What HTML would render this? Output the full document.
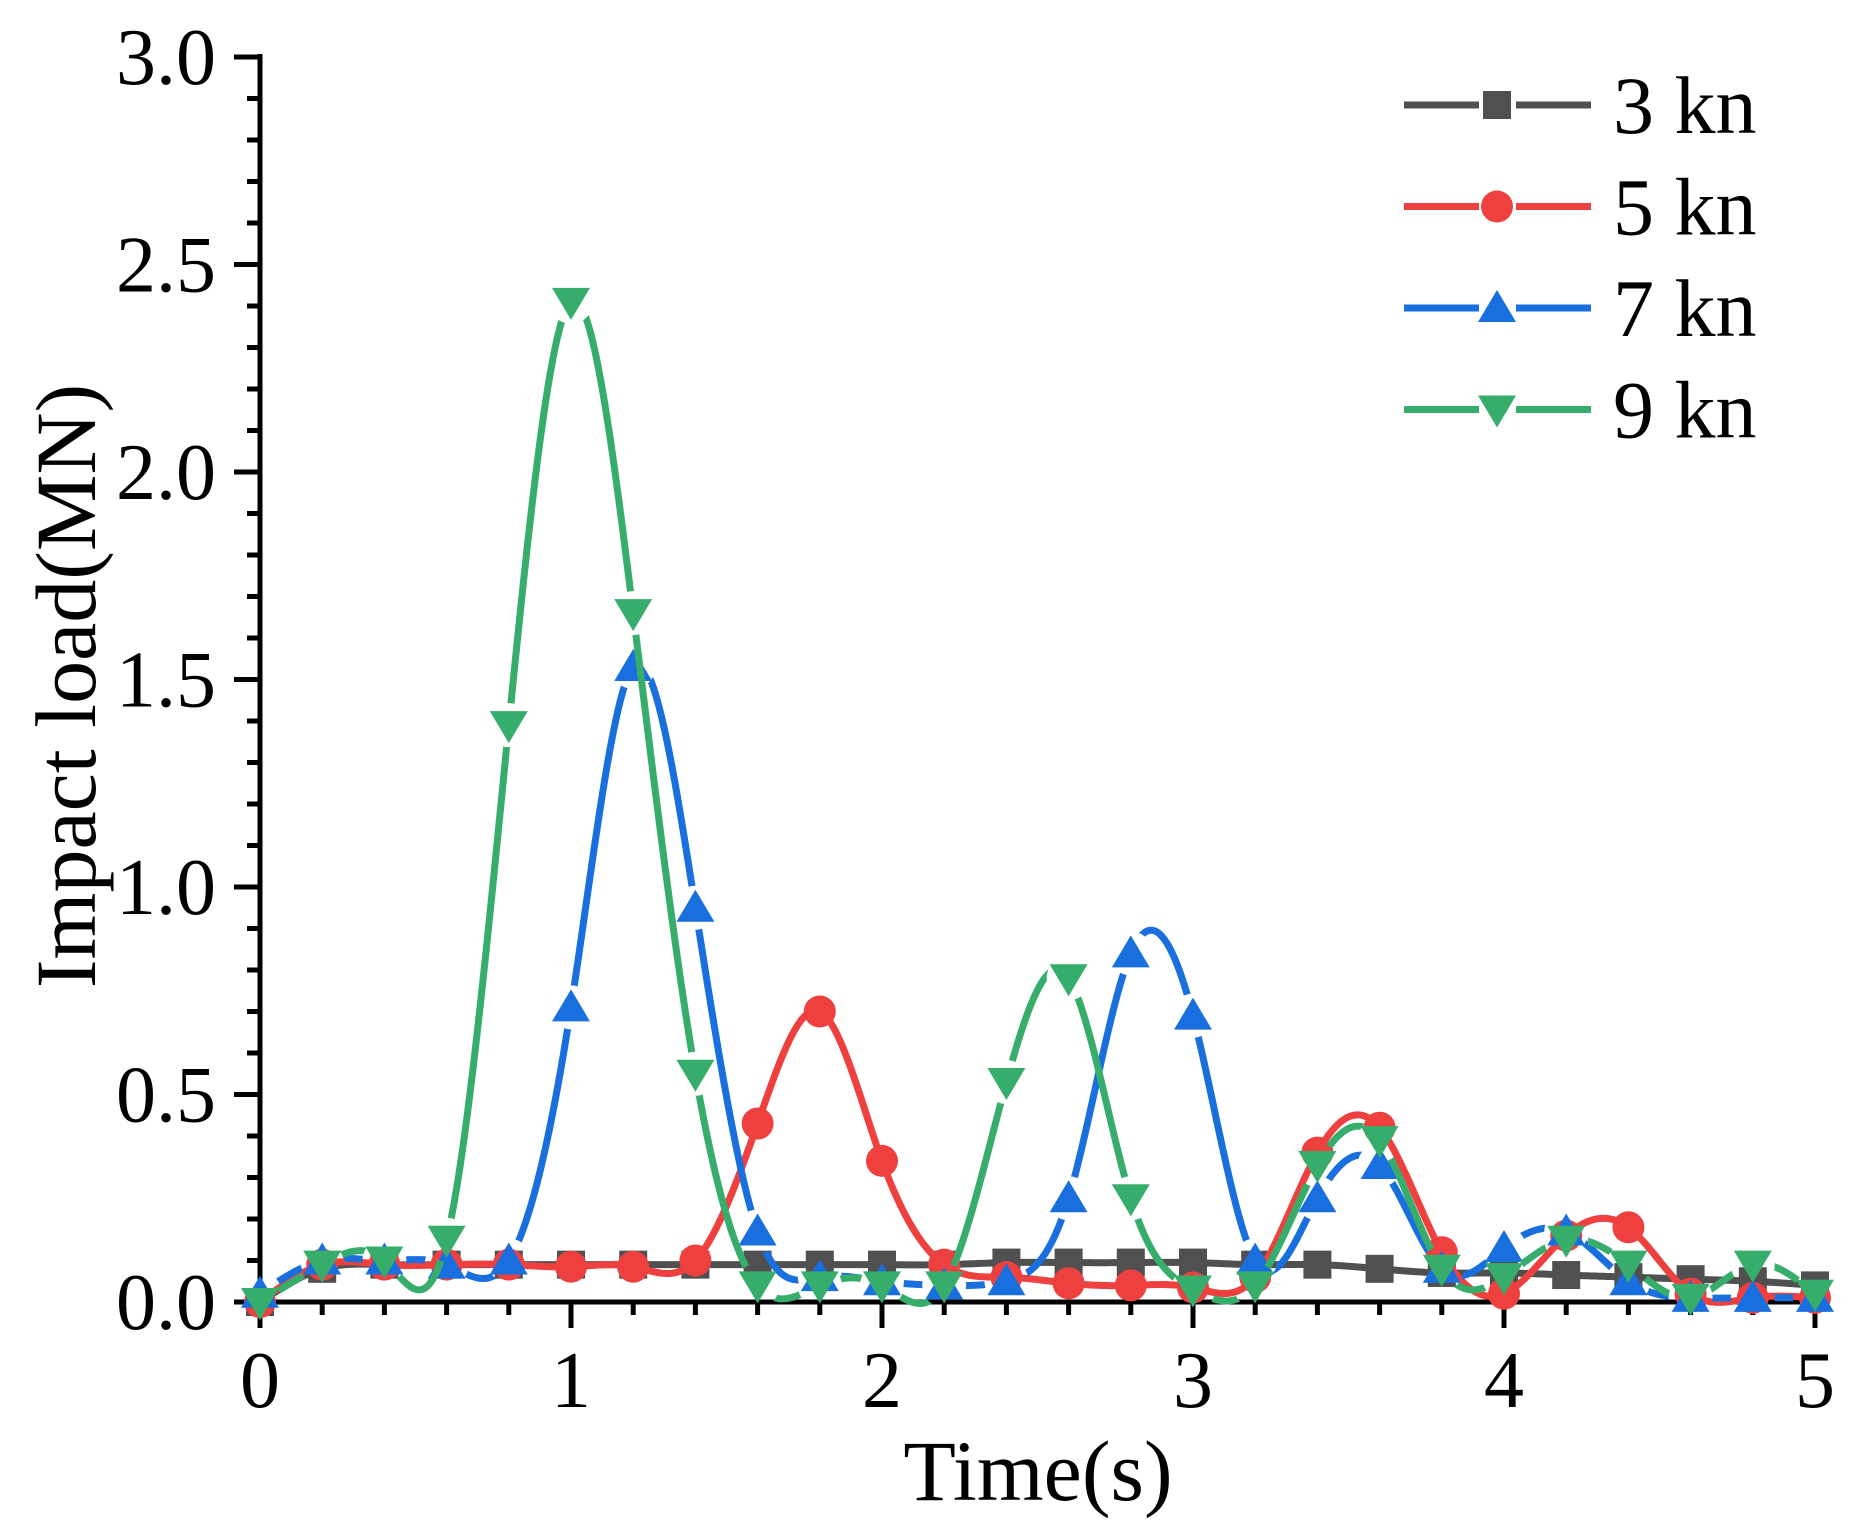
<!DOCTYPE html>
<html><head><meta charset="utf-8"><style>
html,body{margin:0;padding:0;background:#fff;}
svg{display:block;font-family:"Liberation Serif",serif;}
</style></head><body>
<svg id="chart" width="1854" height="1533" viewBox="0 0 1854 1533">
<defs id="defs"></defs>
<g id="axes"></g>
<g id="series"></g>
<g id="legend"></g>
<text x="1038" y="1500" font-size="86" text-anchor="middle">Time(s)</text>
<text transform="translate(95,686) rotate(-90)" font-size="86" text-anchor="middle">Impact load(MN)</text>
</svg>
<script>
const times = [0,0.2,0.4,0.6,0.8,1.0,1.2,1.4,1.6,1.8,2.0,2.2,2.4,2.6,2.8,3.0,3.2,3.4,3.6,3.8,4.0,4.2,4.4,4.6,4.8,5.0];
const s3kn = [0.0,0.08,0.09,0.09,0.09,0.09,0.09,0.09,0.09,0.09,0.09,0.09,0.095,0.095,0.095,0.095,0.09,0.09,0.08,0.07,0.07,0.065,0.06,0.055,0.05,0.04];
const s5kn = [0.0,0.09,0.09,0.09,0.09,0.085,0.085,0.1,0.43,0.70,0.34,0.09,0.06,0.045,0.04,0.035,0.06,0.36,0.42,0.12,0.02,0.16,0.18,0.02,0.01,0.01];
const s7kn = [0.02,0.1,0.1,0.09,0.1,0.71,1.53,0.95,0.17,0.06,0.05,0.04,0.05,0.25,0.84,0.69,0.1,0.25,0.33,0.08,0.13,0.17,0.05,0.01,0.01,0.01];
const s9kn = [0.0,0.09,0.1,0.15,1.39,2.41,1.66,0.55,0.04,0.04,0.04,0.04,0.53,0.78,0.25,0.03,0.04,0.33,0.39,0.08,0.06,0.15,0.09,0.01,0.09,0.02];
const xTicks = [0,1,2,3,4,5];
const yTicks = [0.0,0.5,1.0,1.5,2.0,2.5,3.0];
const seriesNames = ["3 kn","5 kn","7 kn","9 kn"];

const NS="http://www.w3.org/2000/svg";
const X0=260,X1=1815,Y0=1302,Y1=57;
const xs=v=>X0+(v-0)/5*(X1-X0);
const ys=v=>Y0-(v-0)/3*(Y0-Y1);
function mk(tag,attrs,parent){const e=document.createElementNS(NS,tag);for(const k in attrs)e.setAttribute(k,attrs[k]);parent.appendChild(e);return e;}
const axes=document.getElementById('axes');
let l=mk('line',{x1:X0,y1:Y1-3,x2:X0,y2:Y0+2.5,stroke:'#000','stroke-width':5},axes);


l=mk('line',{x1:X0-2.5,y1:Y0,x2:X1+2.5,y2:Y0,stroke:'#000','stroke-width':5},axes);


for(let i=0;i<=25;i++){const v=i*0.2;const major=i%5===0;
 const t=mk('line',{x1:xs(v),y1:Y0,x2:xs(v),y2:Y0+(major?26:13),stroke:'#000','stroke-width':5},axes);
 
 }
for(let i=0;i<=30;i++){const v=i*0.1;const major=i%5===0;
 const t=mk('line',{x1:X0,y1:ys(v),x2:X0-(major?26:13),y2:ys(v),stroke:'#000','stroke-width':5},axes);
 
 }
xTicks.forEach(v=>{const t=mk('text',{x:xs(v),y:1407,'font-size':80,'text-anchor':'middle'},axes);t.textContent=String(v);
 
 });
yTicks.forEach(v=>{const t=mk('text',{x:216,y:ys(v)+27,'font-size':80,'text-anchor':'end'},axes);t.textContent=v.toFixed(1);
 
 });

function splinePath(vals){
 const n=times.length,x=times,y=vals;const h=[],al=[],lo=[1],mu=[0],z=[0],c=new Array(n).fill(0),b=[],d=[];
 for(let i=0;i<n-1;i++)h[i]=x[i+1]-x[i];
 for(let i=1;i<n-1;i++)al[i]=3/h[i]*(y[i+1]-y[i])-3/h[i-1]*(y[i]-y[i-1]);
 for(let i=1;i<n-1;i++){lo[i]=2*(x[i+1]-x[i-1])-h[i-1]*mu[i-1];mu[i]=h[i]/lo[i];z[i]=(al[i]-h[i-1]*z[i-1])/lo[i];}
 z[n-1]=0;
 for(let j=n-2;j>=0;j--){c[j]=z[j]-mu[j]*c[j+1];b[j]=(y[j+1]-y[j])/h[j]-h[j]*(c[j+1]+2*c[j])/3;d[j]=(c[j+1]-c[j])/(3*h[j]);}
 let s='M'+xs(x[0])+','+ys(y[0]);
 for(let j=0;j<n-1;j++){for(let k=1;k<=24;k++){const t=h[j]*k/24;const v=y[j]+b[j]*t+c[j]*t*t+d[j]*t*t*t;s+=' L'+xs(x[j]+t).toFixed(2)+','+ys(Math.max(v,-0.005)).toFixed(2);}}
 return s;}
function marker(type,x,y,color,parent){let m;
 if(type==='sq')m=mk('rect',{x:x-14,y:y-14,width:28,height:28,fill:color},parent);
 else if(type==='ci')m=mk('circle',{cx:x,cy:y,r:16,fill:color},parent);
 else if(type==='up')m=mk('polygon',{points:`${x-19},${y+14} ${x+19},${y+14} ${x},${y-18}`,fill:color},parent);
 else m=mk('polygon',{points:`${x-19},${y-14} ${x+19},${y-14} ${x},${y+18}`,fill:color},parent);
 return m;}
const defs=document.getElementById('defs');
const sg=document.getElementById('series');
const cfg=[[s3kn,'#505050','sq',false],[s5kn,'#ef4040','ci',false],[s7kn,'#1a6fdf','up',true],[s9kn,'#37ad6b','dn',true]];
cfg.forEach((c,k)=>{const [vals,color,type,gap]=c;
 const g=mk('g',{},sg);
 
 
 const path=mk('path',{d:splinePath(vals),fill:'none',stroke:color,'stroke-width':7,'stroke-linecap':'round','stroke-linejoin':'round'},g);
 
 
 if(gap){const m=mk('mask',{id:'m'+k,maskUnits:'userSpaceOnUse',x:0,y:0,width:1854,height:1533},defs);
  mk('rect',{x:0,y:0,width:1854,height:1533,fill:'#fff'},m);
  times.forEach((t,i)=>mk('circle',{cx:xs(t),cy:ys(vals[i]),r:22,fill:'#000'},m));
  path.setAttribute('mask','url(#m'+k+')');}
 times.forEach((t,i)=>{const mm=marker(type,xs(t),ys(vals[i]),color,g);
  
  });
});
const lg=document.getElementById('legend');
cfg.forEach((c,k)=>{const y=105+k*101.5;const g=mk('g',{},lg);
 
 
 mk('line',{x1:1404,y1:y,x2:1479,y2:y,stroke:c[1],'stroke-width':7},g);
 mk('line',{x1:1516,y1:y,x2:1591,y2:y,stroke:c[1],'stroke-width':7},g);
 marker(c[2],1497,y,c[1],g);
 const t=mk('text',{x:1613,y:y+28,'font-size':82},g);t.textContent=seriesNames[k];});
</script>
</body></html>
